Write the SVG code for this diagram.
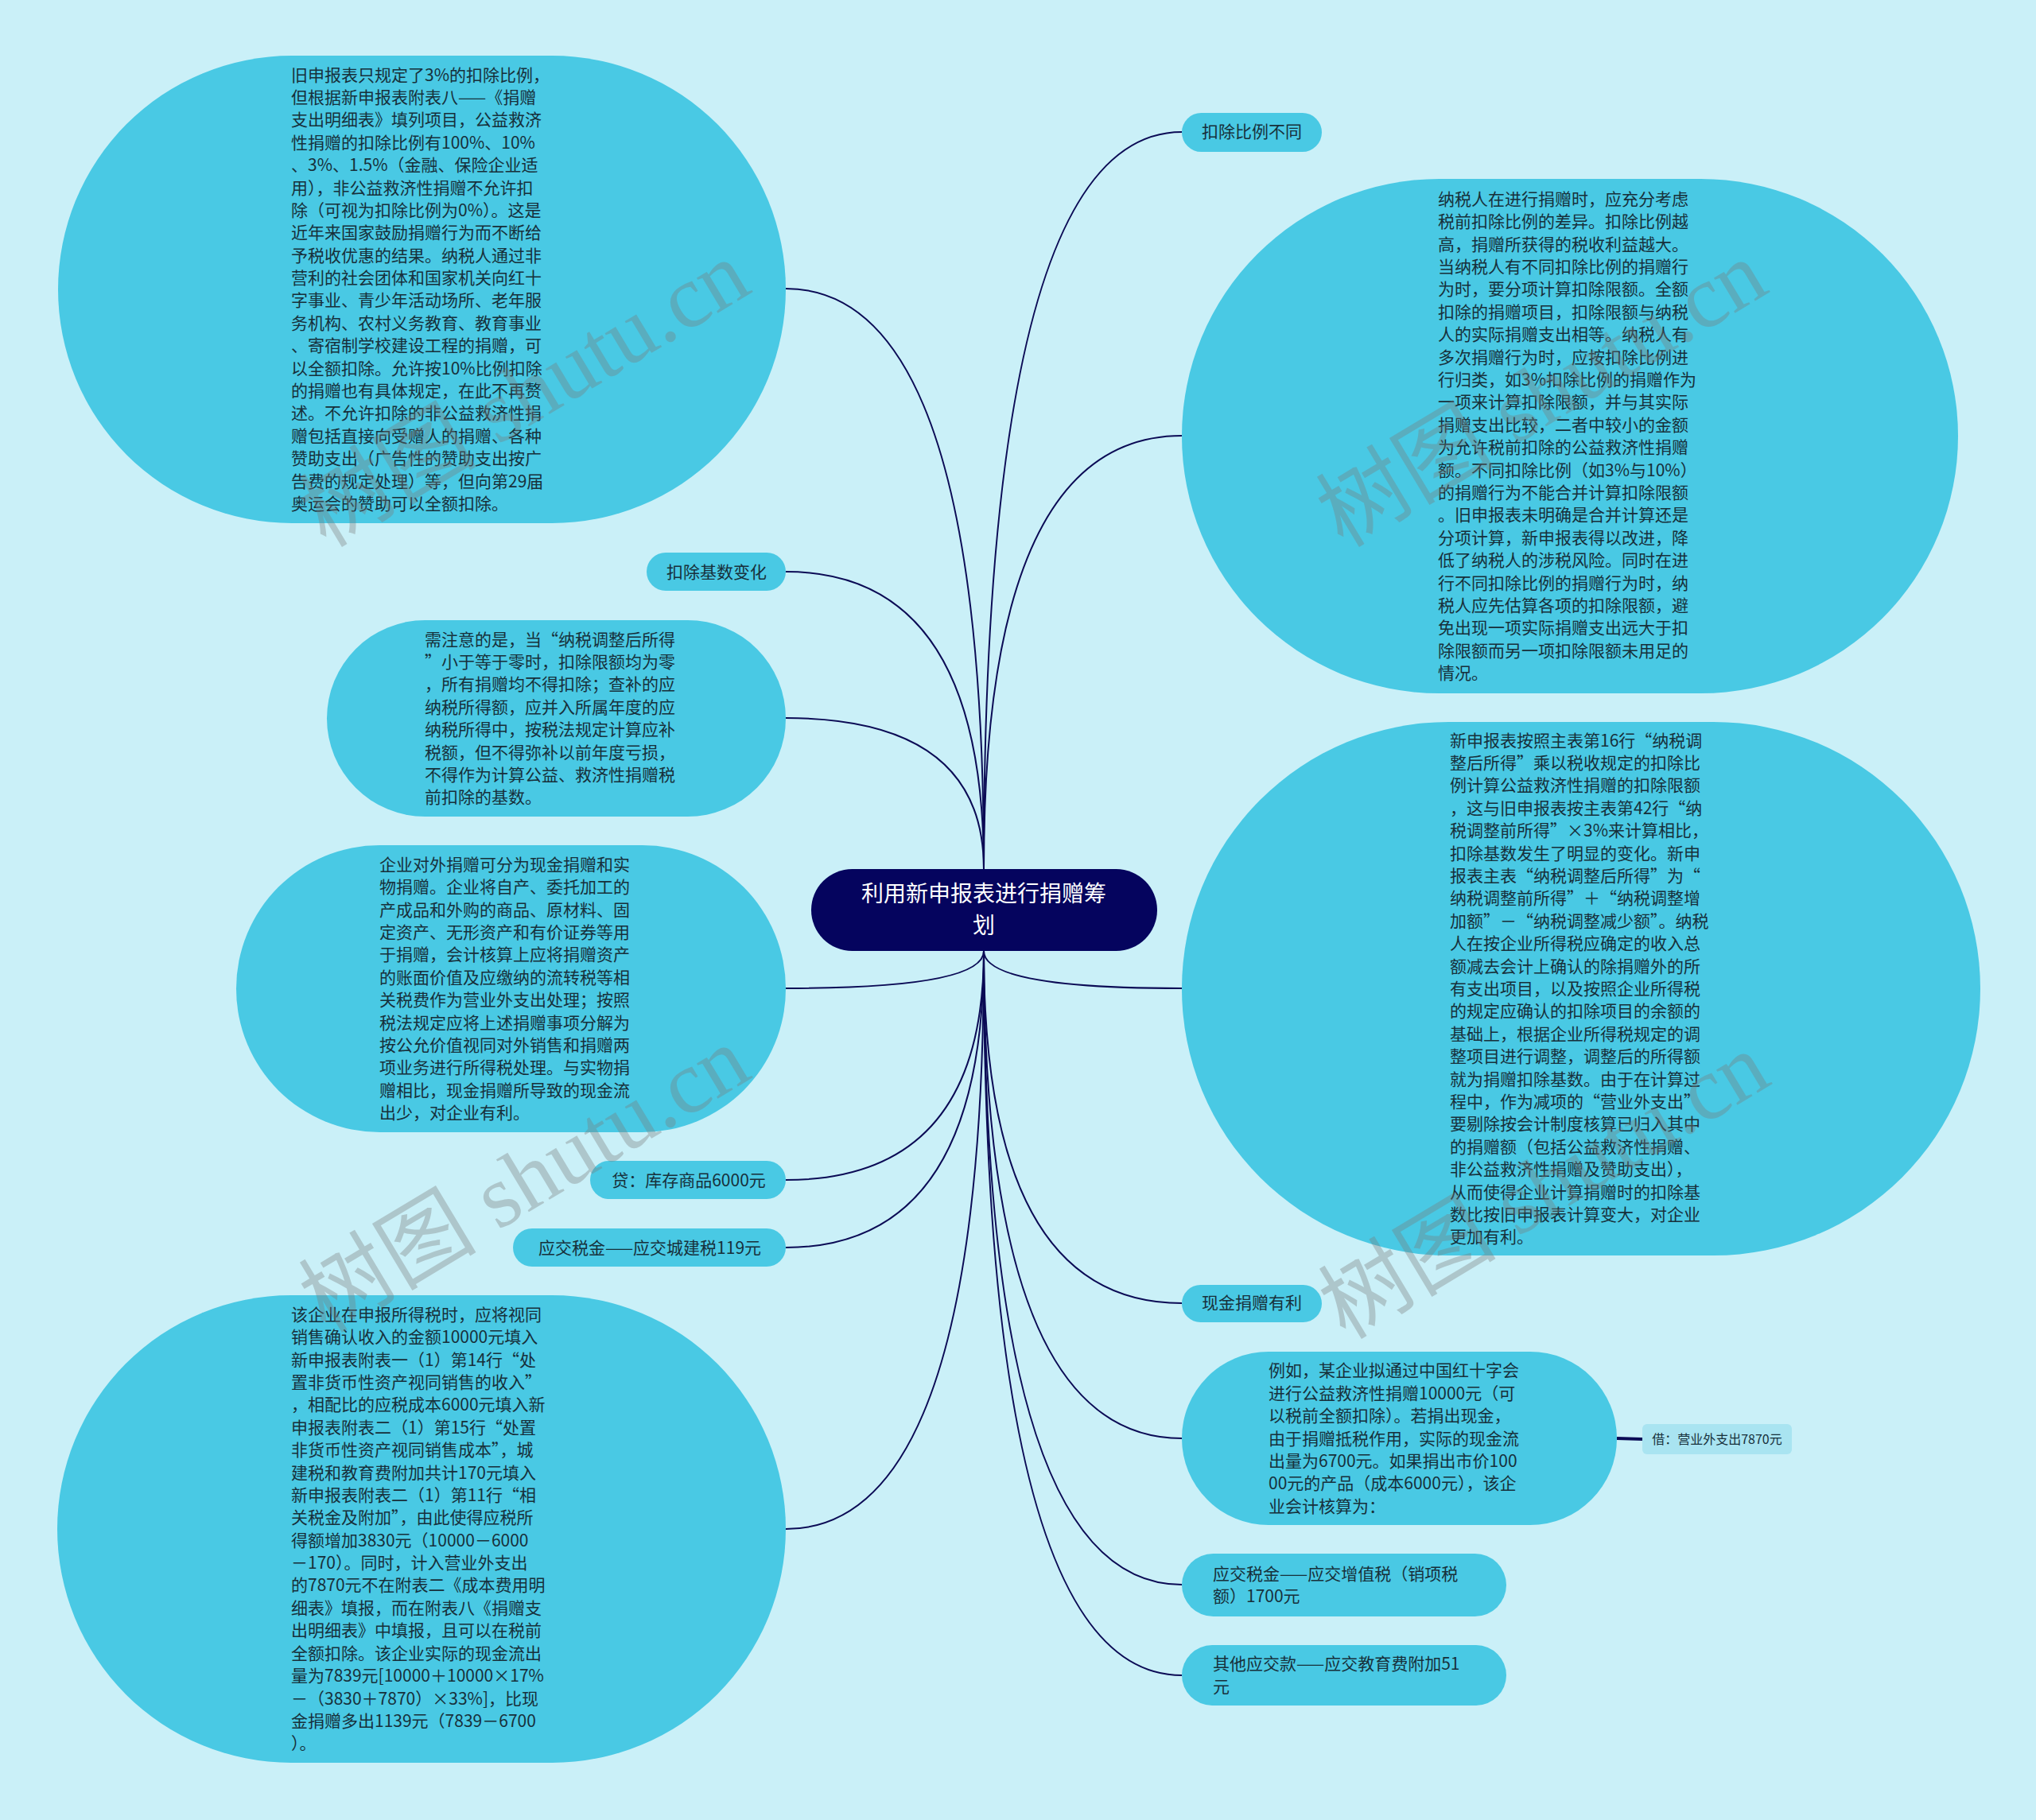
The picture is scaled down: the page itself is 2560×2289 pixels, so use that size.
<svg xmlns="http://www.w3.org/2000/svg" width="2560" height="2289" viewBox="0 0 2560 2289">
<style>
.bg{fill:#caf0f8}
.node{fill:#49c9e4}
.lbl{fill:#a9e4f1}
.root{fill:#05045e}
.t{font-family:"Noto Sans CJK SC","Noto Sans",sans-serif;font-size:21px;fill:#17303b}
.tc{font-family:"Noto Sans CJK SC","Noto Sans",sans-serif;font-size:21px;fill:#17303b;text-anchor:middle}
.ts{font-family:"Noto Sans CJK SC","Noto Sans",sans-serif;font-size:16px;fill:#17303b;text-anchor:middle}
.tr{font-family:"Noto Sans CJK SC","Noto Sans",sans-serif;font-size:28px;fill:#ffffff;text-anchor:middle}
.edge{fill:none;stroke:#0b0b55;stroke-width:2}
.wm{font-family:"Liberation Serif","Noto Sans CJK SC",serif;font-size:112px;fill:#7a7a7a;opacity:0.35;text-anchor:middle}
</style>
<rect class="bg" x="0" y="0" width="2560" height="2289"/>

<g id="connectors">
<path class="edge" d="M1237 1093 Q1237 166 1486 166"/>
<path class="edge" d="M1237 1093 Q1237 548 1486 548"/>
<path class="edge" d="M1237 1093 Q1237 363 988 363"/>
<path class="edge" d="M1237 1093 Q1237 719 988 719"/>
<path class="edge" d="M1237 1093 Q1237 903 988 903"/>
<path class="edge" d="M1237 1196 Q1237 1243 988 1243"/>
<path class="edge" d="M1237 1196 Q1237 1484 988 1484"/>
<path class="edge" d="M1237 1196 Q1237 1569 988 1569"/>
<path class="edge" d="M1237 1196 Q1237 1923 988 1923"/>
<path class="edge" d="M1237 1196 Q1237 1243 1486 1243"/>
<path class="edge" d="M1237 1196 Q1237 1639 1486 1639"/>
<path class="edge" d="M1237 1196 Q1237 1809 1486 1809"/>
<path class="edge" d="M1237 1196 Q1237 1993 1486 1993"/>
<path class="edge" d="M1237 1196 Q1237 2107 1486 2107"/>
<path class="edge" d="M2033 1809 L2065 1810" style="stroke-width:4"/>
</g>

<g id="root">
<rect class="root" x="1020" y="1093" width="435" height="103" rx="51.5"/>
<text class="tr" x="1237" y="1134">利用新申报表进行捐赠筹</text>
<text class="tr" x="1237" y="1174">划</text>
</g>

<g id="n-kcblbt">
<rect class="node" x="1486" y="142" width="176" height="49" rx="24.5"/>
<text class="tc" x="1574" y="173">扣除比例不同</text>
</g>

<g id="n-tr">
<rect class="node" x="1486" y="225" width="976" height="647" rx="323.5"/>
<text class="t" x="1808" y="257.8"><tspan x="1808">纳税人在进行捐赠时，应充分考虑</tspan><tspan x="1808" dy="28.4">税前扣除比例的差异。扣除比例越</tspan><tspan x="1808" dy="28.4">高，捐赠所获得的税收利益越大。</tspan><tspan x="1808" dy="28.4">当纳税人有不同扣除比例的捐赠行</tspan><tspan x="1808" dy="28.4">为时，要分项计算扣除限额。全额</tspan><tspan x="1808" dy="28.4">扣除的捐赠项目，扣除限额与纳税</tspan><tspan x="1808" dy="28.4">人的实际捐赠支出相等。纳税人有</tspan><tspan x="1808" dy="28.4">多次捐赠行为时，应按扣除比例进</tspan><tspan x="1808" dy="28.4">行归类，如3%扣除比例的捐赠作为</tspan><tspan x="1808" dy="28.4">一项来计算扣除限额，并与其实际</tspan><tspan x="1808" dy="28.4">捐赠支出比较，二者中较小的金额</tspan><tspan x="1808" dy="28.4">为允许税前扣除的公益救济性捐赠</tspan><tspan x="1808" dy="28.4">额。不同扣除比例（如3%与10%）</tspan><tspan x="1808" dy="28.4">的捐赠行为不能合并计算扣除限额</tspan><tspan x="1808" dy="28.4">。旧申报表未明确是合并计算还是</tspan><tspan x="1808" dy="28.4">分项计算，新申报表得以改进，降</tspan><tspan x="1808" dy="28.4">低了纳税人的涉税风险。同时在进</tspan><tspan x="1808" dy="28.4">行不同扣除比例的捐赠行为时，纳</tspan><tspan x="1808" dy="28.4">税人应先估算各项的扣除限额，避</tspan><tspan x="1808" dy="28.4">免出现一项实际捐赠支出远大于扣</tspan><tspan x="1808" dy="28.4">除限额而另一项扣除限额未用足的</tspan><tspan x="1808" dy="28.4">情况。</tspan></text>
</g>

<g id="n-r2">
<rect class="node" x="1486" y="908" width="1004" height="671" rx="335.5"/>
<text class="t" x="1823" y="938.6"><tspan x="1823">新申报表按照主表第16行“纳税调</tspan><tspan x="1823" dy="28.4">整后所得”乘以税收规定的扣除比</tspan><tspan x="1823" dy="28.4">例计算公益救济性捐赠的扣除限额</tspan><tspan x="1823" dy="28.4">，这与旧申报表按主表第42行“纳</tspan><tspan x="1823" dy="28.4">税调整前所得”×3%来计算相比，</tspan><tspan x="1823" dy="28.4">扣除基数发生了明显的变化。新申</tspan><tspan x="1823" dy="28.4">报表主表“纳税调整后所得”为“</tspan><tspan x="1823" dy="28.4">纳税调整前所得”＋“纳税调整增</tspan><tspan x="1823" dy="28.4">加额”－“纳税调整减少额”。纳税</tspan><tspan x="1823" dy="28.4">人在按企业所得税应确定的收入总</tspan><tspan x="1823" dy="28.4">额减去会计上确认的除捐赠外的所</tspan><tspan x="1823" dy="28.4">有支出项目，以及按照企业所得税</tspan><tspan x="1823" dy="28.4">的规定应确认的扣除项目的余额的</tspan><tspan x="1823" dy="28.4">基础上，根据企业所得税规定的调</tspan><tspan x="1823" dy="28.4">整项目进行调整，调整后的所得额</tspan><tspan x="1823" dy="28.4">就为捐赠扣除基数。由于在计算过</tspan><tspan x="1823" dy="28.4">程中，作为减项的“营业外支出”</tspan><tspan x="1823" dy="28.4">要剔除按会计制度核算已归入其中</tspan><tspan x="1823" dy="28.4">的捐赠额（包括公益救济性捐赠、</tspan><tspan x="1823" dy="28.4">非公益救济性捐赠及赞助支出），</tspan><tspan x="1823" dy="28.4">从而使得企业计算捐赠时的扣除基</tspan><tspan x="1823" dy="28.4">数比按旧申报表计算变大，对企业</tspan><tspan x="1823" dy="28.4">更加有利。</tspan></text>
</g>

<g id="n-xjjzyl">
<rect class="node" x="1486" y="1616" width="176" height="47" rx="23.5"/>
<text class="tc" x="1574" y="1646">现金捐赠有利</text>
</g>

<g id="n-lr">
<rect class="node" x="1486" y="1700" width="547" height="218" rx="109"/>
<text class="t" x="1595" y="1731.3"><tspan x="1595">例如，某企业拟通过中国红十字会</tspan><tspan x="1595" dy="28.4">进行公益救济性捐赠10000元（可</tspan><tspan x="1595" dy="28.4">以税前全额扣除）。若捐出现金，</tspan><tspan x="1595" dy="28.4">由于捐赠抵税作用，实际的现金流</tspan><tspan x="1595" dy="28.4">出量为6700元。如果捐出市价100</tspan><tspan x="1595" dy="28.4">00元的产品（成本6000元），该企</tspan><tspan x="1595" dy="28.4">业会计核算为：</tspan></text>
</g>

<g id="n-jie">
<rect class="lbl" x="2065" y="1791" width="188" height="38" rx="6"/>
<text class="ts" x="2159" y="1816">借：营业外支出7870元</text>
</g>

<g id="n-zzs">
<rect class="node" x="1486" y="1954" width="408" height="79" rx="39.5"/>
<text class="t" x="1525" y="1986.8"><tspan x="1525">应交税金——应交增值税（销项税</tspan><tspan x="1525" dy="28.4">额）1700元</tspan></text>
</g>

<g id="n-jyf">
<rect class="node" x="1486" y="2069" width="408" height="76" rx="38"/>
<text class="t" x="1525" y="2100.3"><tspan x="1525">其他应交款——应交教育费附加51</tspan><tspan x="1525" dy="28.4">元</tspan></text>
</g>

<g id="n-tl">
<rect class="node" x="73" y="70" width="915" height="588" rx="294"/>
<text class="t" x="366" y="101.5"><tspan x="366">旧申报表只规定了3%的扣除比例，</tspan><tspan x="366" dy="28.4">但根据新申报表附表八——《捐赠</tspan><tspan x="366" dy="28.4">支出明细表》填列项目，公益救济</tspan><tspan x="366" dy="28.4">性捐赠的扣除比例有100%、10%</tspan><tspan x="366" dy="28.4">、3%、1.5%（金融、保险企业适</tspan><tspan x="366" dy="28.4">用），非公益救济性捐赠不允许扣</tspan><tspan x="366" dy="28.4">除（可视为扣除比例为0%）。这是</tspan><tspan x="366" dy="28.4">近年来国家鼓励捐赠行为而不断给</tspan><tspan x="366" dy="28.4">予税收优惠的结果。纳税人通过非</tspan><tspan x="366" dy="28.4">营利的社会团体和国家机关向红十</tspan><tspan x="366" dy="28.4">字事业、青少年活动场所、老年服</tspan><tspan x="366" dy="28.4">务机构、农村义务教育、教育事业</tspan><tspan x="366" dy="28.4">、寄宿制学校建设工程的捐赠，可</tspan><tspan x="366" dy="28.4">以全额扣除。允许按10%比例扣除</tspan><tspan x="366" dy="28.4">的捐赠也有具体规定，在此不再赘</tspan><tspan x="366" dy="28.4">述。不允许扣除的非公益救济性捐</tspan><tspan x="366" dy="28.4">赠包括直接向受赠人的捐赠、各种</tspan><tspan x="366" dy="28.4">赞助支出（广告性的赞助支出按广</tspan><tspan x="366" dy="28.4">告费的规定处理）等，但向第29届</tspan><tspan x="366" dy="28.4">奥运会的赞助可以全额扣除。</tspan></text>
</g>

<g id="n-kcjsbh">
<rect class="node" x="813" y="695" width="175" height="48" rx="24"/>
<text class="tc" x="901" y="727">扣除基数变化</text>
</g>

<g id="n-m1">
<rect class="node" x="411" y="780" width="577" height="247" rx="123.5"/>
<text class="t" x="534" y="811.6"><tspan x="534">需注意的是，当“纳税调整后所得</tspan><tspan x="534" dy="28.4">”小于等于零时，扣除限额均为零</tspan><tspan x="534" dy="28.4">，所有捐赠均不得扣除；查补的应</tspan><tspan x="534" dy="28.4">纳税所得额，应并入所属年度的应</tspan><tspan x="534" dy="28.4">纳税所得中，按税法规定计算应补</tspan><tspan x="534" dy="28.4">税额，但不得弥补以前年度亏损，</tspan><tspan x="534" dy="28.4">不得作为计算公益、救济性捐赠税</tspan><tspan x="534" dy="28.4">前扣除的基数。</tspan></text>
</g>

<g id="n-m2">
<rect class="node" x="297" y="1063" width="691" height="361" rx="180.5"/>
<text class="t" x="477" y="1094.8"><tspan x="477">企业对外捐赠可分为现金捐赠和实</tspan><tspan x="477" dy="28.4">物捐赠。企业将自产、委托加工的</tspan><tspan x="477" dy="28.4">产成品和外购的商品、原材料、固</tspan><tspan x="477" dy="28.4">定资产、无形资产和有价证券等用</tspan><tspan x="477" dy="28.4">于捐赠，会计核算上应将捐赠资产</tspan><tspan x="477" dy="28.4">的账面价值及应缴纳的流转税等相</tspan><tspan x="477" dy="28.4">关税费作为营业外支出处理；按照</tspan><tspan x="477" dy="28.4">税法规定应将上述捐赠事项分解为</tspan><tspan x="477" dy="28.4">按公允价值视同对外销售和捐赠两</tspan><tspan x="477" dy="28.4">项业务进行所得税处理。与实物捐</tspan><tspan x="477" dy="28.4">赠相比，现金捐赠所导致的现金流</tspan><tspan x="477" dy="28.4">出少，对企业有利。</tspan></text>
</g>

<g id="n-dai">
<rect class="node" x="742" y="1460" width="246" height="48" rx="24"/>
<text class="tc" x="866" y="1492">贷：库存商品6000元</text>
</g>

<g id="n-cjs">
<rect class="node" x="645" y="1545" width="343" height="48" rx="24"/>
<text class="tc" x="817" y="1577">应交税金——应交城建税119元</text>
</g>

<g id="n-bl">
<rect class="node" x="72" y="1629" width="916" height="588" rx="294"/>
<text class="t" x="366" y="1660.7"><tspan x="366">该企业在申报所得税时，应将视同</tspan><tspan x="366" dy="28.4">销售确认收入的金额10000元填入</tspan><tspan x="366" dy="28.4">新申报表附表一（1）第14行“处</tspan><tspan x="366" dy="28.4">置非货币性资产视同销售的收入”</tspan><tspan x="366" dy="28.4">，相配比的应税成本6000元填入新</tspan><tspan x="366" dy="28.4">申报表附表二（1）第15行“处置</tspan><tspan x="366" dy="28.4">非货币性资产视同销售成本”，城</tspan><tspan x="366" dy="28.4">建税和教育费附加共计170元填入</tspan><tspan x="366" dy="28.4">新申报表附表二（1）第11行“相</tspan><tspan x="366" dy="28.4">关税金及附加”，由此使得应税所</tspan><tspan x="366" dy="28.4">得额增加3830元（10000－6000</tspan><tspan x="366" dy="28.4">－170）。同时，计入营业外支出</tspan><tspan x="366" dy="28.4">的7870元不在附表二《成本费用明</tspan><tspan x="366" dy="28.4">细表》填报，而在附表八《捐赠支</tspan><tspan x="366" dy="28.4">出明细表》中填报，且可以在税前</tspan><tspan x="366" dy="28.4">全额扣除。该企业实际的现金流出</tspan><tspan x="366" dy="28.4">量为7839元[10000＋10000×17%</tspan><tspan x="366" dy="28.4">－（3830＋7870）×33%]，比现</tspan><tspan x="366" dy="28.4">金捐赠多出1139元（7839－6700</tspan><tspan x="366" dy="28.4">）。</tspan></text>
</g>

<g id="watermarks">
<text class="wm" transform="translate(661 498) rotate(-31)" y="35">树图 shutu.cn</text>
<text class="wm" transform="translate(1940 498) rotate(-31)" y="35">树图 shutu.cn</text>
<text class="wm" transform="translate(661 1486) rotate(-31)" y="35">树图 shutu.cn</text>
<text class="wm" transform="translate(1943 1494) rotate(-31)" y="35">树图 shutu.cn</text>
</g>
</svg>
